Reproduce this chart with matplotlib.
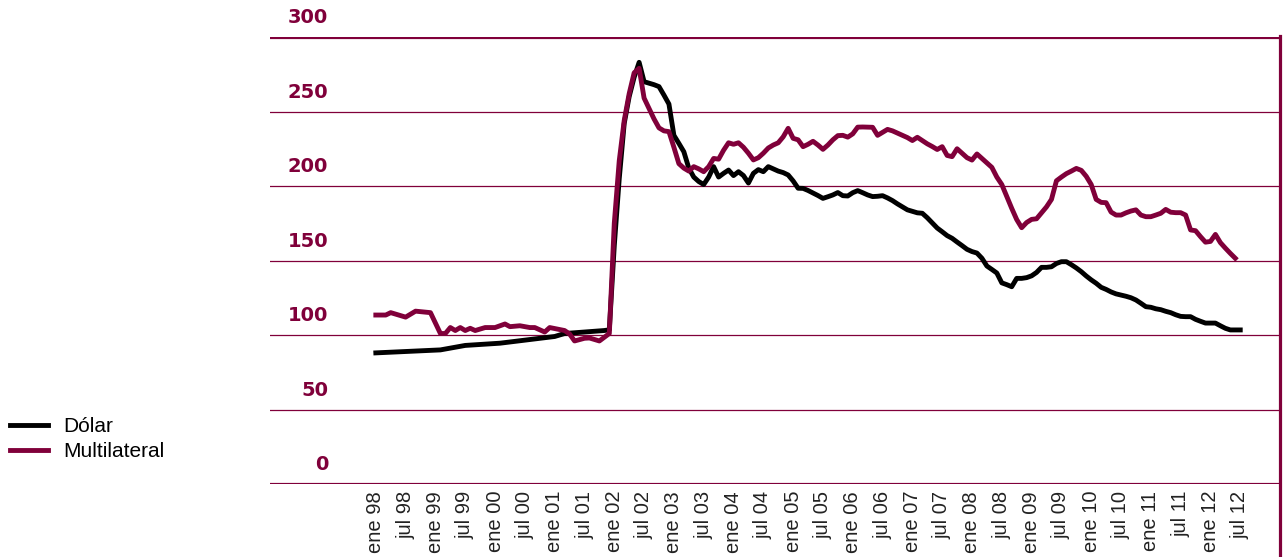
import numpy as np
import matplotlib
matplotlib.use("Agg")
import matplotlib.pyplot as plt
from matplotlib.lines import Line2D

granate = '#80003a'

# meses contados desde ene 98 (0 = ene 98)
dolar_mes = [0, 13, 18, 25, 36, 38, 46, 47] + list(range(48, 175))
dolar_val = [88, 90, 93, 94.5, 99, 101, 103, 103.5,
             160, 205, 242, 260, 273, 283, 270, 269, 268, 266.7, 261, 255,
             234, 228.6, 223, 212, 206, 203, 201, 206, 213, 206,
             208.5, 210.7, 207, 209.6, 207, 202, 208.5, 211, 209.6, 213,
             211.5, 210, 209, 207.4, 203.4, 198.5, 198.4, 197, 195.3, 193.6,
             191.7, 192.8, 194, 195.6, 193.5, 193.3, 195.5, 196.9, 195.5, 194,
             192.9, 193.1, 193.5, 192, 190.2, 188, 186, 184, 183, 182,
             181.7, 178.7, 175.2, 171.8, 169.3, 166.7, 164.9, 162.4, 160, 157.5,
             156, 155, 151.5, 146.3, 144, 141.6, 135, 133.8, 132.4, 138,
             138, 138.5, 139.7, 142, 145.4, 145.4, 145.8, 148, 149.2, 149.2,
             147.2, 145, 142.5, 139.6, 137, 134.7, 132, 130.6, 128.9, 127.6,
             126.8, 126, 125, 123.5, 121.3, 119, 118.6, 117.6, 117, 115.9,
             115, 113.6, 112.5, 112.3, 112.3, 110.5, 109.2, 108, 108, 108,
             106.2, 104.5, 103.4, 103.4, 103.4]

multi_mes = [0, 2, 3, 6, 8, 11, 13, 14, 15, 16, 17, 18, 19, 20, 22, 24, 26, 27,
             29, 31, 32, 34, 35, 38, 39, 40, 42, 43, 45, 47] + list(range(48, 174))
multi_val = [113.4, 113.4, 115, 112, 116, 115, 101, 101, 105, 103, 105, 103,
             104.5, 103, 105, 105, 107.4, 105.6, 106.2, 105, 105, 102, 105, 103,
             100.7, 96, 97.8, 98, 96, 101,
             175, 217, 244, 262, 276, 279, 259, 252, 245, 239, 237, 236.5,
             226, 215, 212, 210, 213, 211.5, 209.6, 213, 218.5, 218,
             224, 229, 228, 229, 226, 222, 217.5, 219, 222, 225.5,
             227.5, 229, 233, 238.7, 232, 231, 226.4, 228, 230, 227.5,
             224.6, 227.5, 231, 233.8, 234, 232.8, 235, 239.5, 239.6, 239.5,
             239.4, 234, 236, 238, 237, 235.5, 234, 232.5, 230.5, 232.7,
             230.5, 228.3, 226.5, 224.5, 226.4, 220.5, 219.7, 225, 222, 219,
             217.4, 221.5, 218.5, 215.5, 212.5, 206, 201, 193, 185, 177.5,
             172, 175.5, 177.6, 178, 182, 186, 191, 203.5, 206, 208.3,
             210, 211.8, 210.5, 206.5, 201, 191, 189, 188.8, 182.5, 180.5,
             180.5, 182, 183.2, 184, 180.5, 179.4, 179.4, 180.5, 181.7, 184.3,
             182.4, 182.1, 182.1, 180.5, 170.5, 170, 166, 162.3, 162.8, 167.5,
             162, 158.3, 154.8, 151.5]

etiquetas = []
for a in range(98, 113):
    etiquetas += ['ene %02d' % (a % 100), 'jul %02d' % (a % 100)]
pos_etiquetas = list(range(0, 6 * len(etiquetas), 6))

y_valores = [0, 50, 100, 150, 200, 250, 300]

fig = plt.figure(figsize=(12.88, 5.57), dpi=100)
ax = fig.add_axes([270 / 1288, 1 - 484 / 557, 1010 / 1288, 447 / 557])

for v in y_valores:
    lw = 2.3 if v in (0, 300) else 0.9
    ax.axhline(v, color=granate, lw=lw, zorder=1)
    ax.annotate(str(v), xy=((328 - 270) / 1010, v), xycoords=('axes fraction', 'data'),
                xytext=(0, 7), textcoords='offset points', ha='right', va='bottom',
                fontsize=14, fontweight='heavy', color=granate, family='DejaVu Sans')

ax.plot(dolar_mes, dolar_val, color='black', lw=3.5, zorder=3, solid_joinstyle='round')
ax.plot(multi_mes, multi_val, color=granate, lw=3.5, zorder=4, solid_joinstyle='round')

# borde derecho que baja hasta el pie
ax.plot([1, 1], [-0.3, 1.0025], transform=ax.transAxes, color=granate, lw=2.3,
        clip_on=False, zorder=5)

ax.set_xlim(-21.3, 182.0)
ax.set_ylim(0, 300)
for s in ax.spines.values():
    s.set_visible(False)
ax.set_yticks([])
ax.set_xticks(pos_etiquetas)
ax.set_xticklabels(etiquetas, rotation=90, fontsize=14.5, family='Liberation Sans',
                   color='#222222')
ax.tick_params(axis='x', length=0, pad=5)

handles = [Line2D([], [], color='black', lw=3.5), Line2D([], [], color=granate, lw=3.5)]
fig.legend(handles, ['Dólar', 'Multilateral'], loc='center left',
           bbox_to_anchor=(10 / 1288, 1 - 439 / 557), frameon=False,
           prop={'family': 'Liberation Sans', 'size': 15}, handlelength=1.8,
           handletextpad=0.75, labelspacing=0.3, borderpad=0, borderaxespad=0)

fig.savefig('out.png', dpi=100)
